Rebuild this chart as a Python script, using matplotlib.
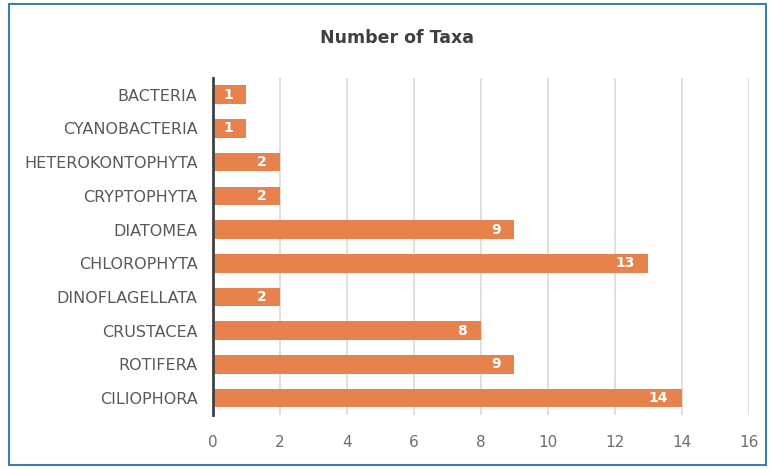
import matplotlib
matplotlib.use('Agg')
from matplotlib import pyplot as plt
from matplotlib.patches import Rectangle


CATEGORIES = [
    'BACTERIA',
    'CYANOBACTERIA',
    'HETEROKONTOPHYTA',
    'CRYPTOPHYTA',
    'DIATOMEA',
    'CHLOROPHYTA',
    'DINOFLAGELLATA',
    'CRUSTACEA',
    'ROTIFERA',
    'CILIOPHORA',
]
TAXA = [1, 1, 2, 2, 9, 13, 2, 8, 9, 14]
X_TICKS = [0, 2, 4, 6, 8, 10, 12, 14, 16]


def main():
    fig = plt.figure(figsize=(7.71, 4.69), dpi=100)
    ax = fig.add_axes([0.276, 0.115, 0.695, 0.719])

    # frame around the whole chart
    fig.patches.append(Rectangle((9 / 771, 4 / 469), 757 / 771, 461 / 469,
                                 transform=fig.transFigure, fill=False,
                                 edgecolor='#3C7FA9', linewidth=1.5))

    y = list(range(len(CATEGORIES)))
    bars = ax.barh(y, TAXA, height=0.55, color='#E8824C', zorder=2)
    ax.set_ylim(len(CATEGORIES) - 0.5, -0.5)
    ax.set_yticks(y)
    ax.set_yticklabels(CATEGORIES)
    ax.set_xlim(0, 16)
    ax.set_xticks(X_TICKS)

    for rect, v in zip(bars, TAXA):
        ax.text(rect.get_width() - 0.4, rect.get_y() + rect.get_height() / 2, str(v),
                ha='right', va='center', color='white', fontsize=10,
                fontweight='bold', zorder=3)

    ax.grid(axis='x', color='#D9D9D9', linewidth=1.2, zorder=1)
    for side in ['top', 'right', 'bottom']:
        ax.spines[side].set_visible(False)
    ax.spines['left'].set_color('#404040')
    ax.spines['left'].set_linewidth(2)
    ax.spines['left'].set_zorder(4)
    ax.tick_params(axis='both', length=0)
    ax.tick_params(axis='y', pad=11, labelsize=11.5, labelcolor='#595959')
    ax.tick_params(axis='x', pad=14, labelsize=11, labelcolor='#6E6E6E')

    fig.text(0.515, 0.92, 'Number of Taxa', ha='center', va='center',
             fontsize=12.5, fontweight='bold', color='#404040')

    fig.savefig('out.png', dpi=100)


if __name__ == '__main__':
    main()
